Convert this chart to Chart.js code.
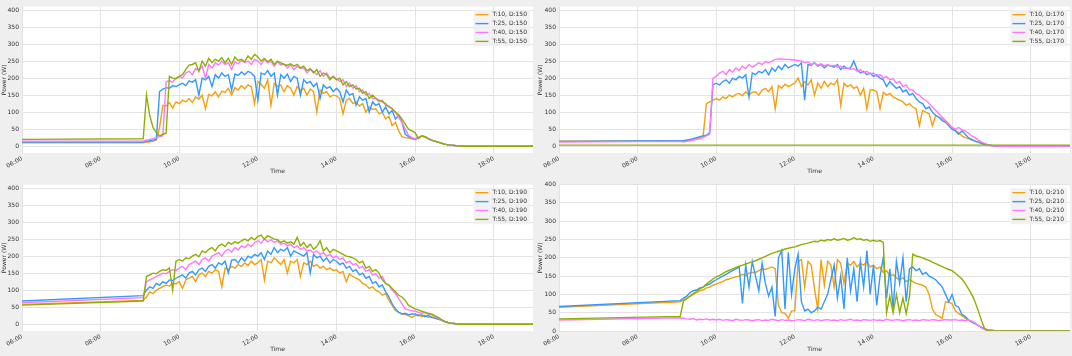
<!DOCTYPE html>
<html><head><meta charset="utf-8">
<script src="https://cdn.jsdelivr.net/npm/chart.js@4/dist/chart.umd.min.js"></script>
<style>
html,body{margin:0;padding:0;background:#efefef;}
#wrap{position:relative;width:1072px;height:356px;overflow:hidden;background:#efefef;}
.cell{position:absolute;width:536px;height:178px;}
canvas{display:block;}
</style></head><body>
<div id="wrap">
<div class="cell" style="left:0;top:0"><canvas id="c0" width="536" height="178"></canvas></div>
<div class="cell" style="left:536px;top:0"><canvas id="c1" width="536" height="178"></canvas></div>
<div class="cell" style="left:0;top:178px"><canvas id="c2" width="536" height="178"></canvas></div>
<div class="cell" style="left:536px;top:178px"><canvas id="c3" width="536" height="178"></canvas></div>
</div>
<script>
// ---- data ----
const times = ["06:00","09:05",
"09:10","09:15","09:20","09:25","09:30","09:35","09:40","09:45","09:50","09:55",
"10:00","10:05","10:10","10:15","10:20","10:25","10:30","10:35","10:40","10:45","10:50","10:55",
"11:00","11:05","11:10","11:15","11:20","11:25","11:30","11:35","11:40","11:45","11:50","11:55",
"12:00","12:05","12:10","12:15","12:20","12:25","12:30","12:35","12:40","12:45","12:50","12:55",
"13:00","13:05","13:10","13:15","13:20","13:25","13:30","13:35","13:40","13:45","13:50","13:55",
"14:00","14:05","14:10","14:15","14:20","14:25","14:30","14:35","14:40","14:45","14:50","14:55",
"15:00","15:05","15:10","15:15","15:20","15:25","15:30","15:35","15:40","15:45","15:50","15:55",
"16:00","16:05","16:10","16:15","16:20","16:25","16:30","16:35","16:40","16:45","16:50","16:55",
"17:00","17:05","17:10","19:00"];

const temps = [10, 25, 40, 55];
const distances = [150, 170, 190, 210];
const xTickHours = [6, 8, 10, 12, 14, 16, 18];
const xTickLabels = ["06:00","08:00","10:00","12:00","14:00","16:00","18:00"];
const yTickValues = [0, 50, 100, 150, 200, 250, 300, 350, 400];

// D:150
const d150_t10 = [10, 10,
 12, 13, 15, 18, 55, 120, 118, 128, 112, 130,
 125, 135, 130, 140, 128, 145, 138, 150, 110, 152, 148, 160,
 145, 162, 158, 170, 150, 172, 165, 178, 168, 180, 175, 125,
 190, 182, 170, 195, 120, 185, 175, 180, 160, 178, 170, 150,
 175, 165, 170, 150, 168, 160, 100, 165, 155, 160, 145, 150,
 148, 140, 95, 135, 140, 125, 130, 118, 125, 100, 115, 108,
 110, 95, 100, 80, 88, 60, 70, 45, 28, 25, 24, 22,
 20, 24, 30, 28, 22, 18, 15, 12, 9, 6, 4, 3,
 2, 1, 0, 0];
const d150_t25 = [12, 12,
 14, 16, 18, 20, 160, 168, 172, 170, 178, 175,
 180, 185, 178, 192, 188, 195, 150, 200, 195, 205, 175, 210,
 200, 215, 205, 210, 165, 212, 208, 218, 210, 220, 215, 205,
 135, 215, 210, 222, 205, 215, 150, 210, 200, 212, 190, 205,
 200, 150, 195, 185, 190, 175, 185, 140, 180, 170, 175, 160,
 170, 160, 130, 165, 150, 155, 120, 145, 135, 140, 100, 130,
 120, 125, 100, 115, 95, 105, 80, 90, 70, 35, 28, 24,
 20, 25, 30, 27, 22, 18, 15, 12, 9, 6, 4, 3,
 2, 1, 0, 0];
const d150_t40 = [15, 15,
 18, 20, 22, 25, 28, 30, 190, 192, 188, 200,
 205, 200, 215, 220, 210, 228, 222, 235, 200, 240, 230, 245,
 238, 250, 240, 245, 225, 248, 242, 252, 245, 250, 240, 255,
 250, 240, 255, 245, 250, 235, 248, 238, 242, 230, 238, 225,
 235, 228, 230, 215, 225, 220, 210, 222, 205, 215, 200, 205,
 198, 190, 195, 175, 185, 170, 178, 160, 165, 150, 155, 140,
 140, 130, 135, 120, 118, 110, 100, 85, 70, 50, 32, 25,
 22, 26, 30, 28, 22, 18, 15, 12, 9, 6, 4, 3,
 2, 1, 0, 0];
const d150_t55 = [20, 22,
 150, 90, 55, 40, 30, 35, 38, 205, 200, 198,
 205, 210, 225, 238, 240, 245, 220, 250, 235, 258, 245, 255,
 250, 260, 245, 258, 240, 262, 252, 255, 248, 265, 255, 270,
 262, 250, 258, 248, 255, 240, 250, 245, 240, 238, 242, 235,
 240, 230, 235, 222, 228, 215, 225, 205, 215, 210, 195, 205,
 195, 200, 180, 190, 175, 180, 168, 170, 155, 160, 140, 150,
 140, 135, 130, 125, 115, 110, 100, 92, 80, 65, 50, 45,
 40, 22, 30, 28, 22, 18, 15, 12, 9, 6, 4, 3,
 2, 1, 0, 0];

// D:170
const d170_t10 = [15, 16,
 15, 18, 16, 20, 22, 25, 30, 125, 130, 135,
 140, 135, 145, 140, 150, 145, 152, 155, 148, 160, 150, 158,
 160, 150, 165, 170, 160, 175, 110, 178, 170, 182, 175, 180,
 185, 200, 175, 190, 180, 195, 150, 185, 170, 190, 175, 185,
 180, 195, 120, 185, 175, 180, 170, 175, 150, 170, 110, 165,
 165, 160, 110, 158, 150, 155, 145, 140, 135, 130, 120, 125,
 115, 110, 60, 105, 100, 95, 60, 90, 85, 80, 75, 65,
 55, 45, 40, 30, 25, 22, 18, 15, 12, 10, 6, 4,
 2, 1, 0, 0];
const d170_t25 = [14, 16,
 16, 18, 20, 22, 25, 28, 30, 32, 40, 180,
 185, 180, 190, 195, 185, 200, 195, 205, 200, 210, 145, 215,
 210, 220, 215, 225, 210, 230, 220, 235, 225, 240, 230, 235,
 240, 235, 245, 135, 240, 238, 245, 235, 240, 230, 238, 235,
 232, 240, 225, 235, 228, 230, 250, 225, 215, 220, 210, 215,
 205, 210, 200, 195, 175, 190, 180, 170, 175, 160, 165, 150,
 155, 140, 130, 125, 110, 115, 100, 90, 85, 75, 70, 60,
 50, 45, 35, 45, 35, 25, 20, 15, 12, 8, 5, 3,
 2, 1, 0, 0];
const d170_t40 = [12, 14,
 12, 14, 16, 18, 20, 22, 25, 30, 35, 200,
 205, 215, 220, 210, 225, 218, 230, 222, 235, 228, 240, 232,
 238, 245, 240, 248, 245, 250, 255, 256, 256, 255, 255, 254,
 253, 252, 250, 245, 248, 240, 244, 238, 242, 236, 240, 235,
 238, 232, 235, 228, 230, 225, 228, 220, 225, 215, 220, 212,
 215, 205, 210, 200, 205, 195, 198, 185, 190, 175, 180, 165,
 165, 155, 150, 140, 135, 125, 115, 105, 95, 85, 75, 65,
 55, 50, 55, 48, 45, 38, 30, 25, 18, 12, 8, 4,
 2, 1, 0, 0];
const d170_t55 = [3, 3,
 3, 3, 3, 3, 3, 3, 3, 3, 3, 3,
 3, 3, 3, 3, 3, 3, 3, 3, 3, 3, 3, 3,
 3, 3, 3, 3, 3, 3, 3, 3, 3, 3, 3, 3,
 3, 3, 3, 3, 3, 3, 3, 3, 3, 3, 3, 3,
 3, 3, 3, 3, 3, 3, 3, 3, 3, 3, 3, 3,
 3, 3, 3, 3, 3, 3, 3, 3, 3, 3, 3, 3,
 3, 3, 3, 3, 3, 3, 3, 3, 3, 3, 3, 3,
 3, 3, 3, 3, 3, 3, 3, 3, 3, 3, 3, 3,
 3, 3, 3, 3];

// D:190
const d190_t10 = [58, 70,
 80, 95, 90, 100, 105, 110, 115, 112, 120, 118,
 125, 105, 130, 135, 140, 125, 145, 150, 140, 155, 150, 160,
 155, 110, 165, 160, 170, 165, 175, 170, 180, 172, 185, 175,
 180, 190, 130, 185, 180, 195, 185, 175, 190, 150, 185, 180,
 190, 140, 180, 175, 185, 170, 175, 165, 170, 160, 165, 158,
 160, 150, 155, 125, 148, 140, 135, 130, 120, 115, 105, 110,
 100, 95, 85, 90, 70, 55, 40, 35, 30, 28, 25, 20,
 25, 28, 22, 26, 20, 22, 18, 15, 12, 8, 5, 3,
 2, 0, 0, 0];
const d190_t25 = [68, 84,
 100, 110, 105, 120, 115, 125, 120, 130, 128, 135,
 140, 145, 135, 150, 155, 145, 160, 165, 155, 170, 175, 165,
 180, 175, 185, 150, 188, 190, 180, 195, 185, 200, 195, 205,
 200, 210, 190, 215, 205, 225, 210, 220, 215, 225, 200, 215,
 210, 205, 200, 210, 150, 205, 195, 200, 185, 195, 180, 190,
 185, 175, 180, 165, 170, 155, 160, 145, 150, 135, 140, 120,
 125, 110, 115, 95, 80, 60, 45, 35, 30, 32, 28, 30,
 30, 25, 28, 22, 26, 20, 18, 15, 12, 8, 5, 3,
 2, 0, 0, 0];
const d190_t40 = [63, 78,
 125, 130, 135, 140, 145, 150, 148, 155, 160, 158,
 165, 170, 160, 175, 180, 185, 175, 190, 195, 185, 200, 205,
 210, 200, 215, 220, 212, 225, 218, 230, 225, 235, 228, 240,
 245, 238, 250, 242, 248, 240, 245, 235, 238, 230, 235, 225,
 230, 220, 225, 215, 218, 210, 215, 205, 210, 200, 205, 195,
 200, 190, 195, 180, 185, 175, 178, 165, 170, 155, 160, 145,
 148, 135, 140, 120, 115, 100, 90, 75, 60, 45, 42, 40,
 38, 35, 32, 34, 30, 28, 22, 18, 12, 8, 5, 3,
 2, 0, 0, 0];
const d190_t55 = [56, 68,
 140, 145, 150, 148, 155, 160, 158, 165, 100, 185,
 190, 185, 195, 192, 200, 205, 198, 215, 210, 220, 225, 215,
 230, 235, 228, 240, 235, 242, 238, 245, 250, 245, 255, 248,
 258, 262, 250, 260, 255, 250, 248, 240, 245, 238, 242, 235,
 255, 230, 240, 225, 235, 220, 228, 245, 215, 225, 210, 220,
 215, 210, 205, 200, 198, 195, 190, 180, 185, 165, 170, 155,
 160, 150, 130, 120, 115, 105, 95, 85, 80, 70, 55, 50,
 45, 42, 38, 35, 32, 30, 25, 20, 14, 8, 5, 3,
 2, 0, 0, 0];

// D:210
const d210_t10 = [65, 80,
 85, 90, 95, 100, 105, 110, 112, 118, 120, 125,
 128, 132, 135, 140, 142, 145, 148, 150, 155, 152, 158, 160,
 160, 165, 170, 168, 172, 175, 170, 70, 50, 48, 35, 55,
 55, 190, 195, 120, 190, 180, 115, 60, 195, 125, 190, 180,
 120, 195, 185, 130, 185, 180, 190, 175, 185, 180, 190, 175,
 180, 170, 175, 160, 165, 150, 155, 145, 140, 145, 135, 140,
 135, 130, 128, 125, 120, 100, 60, 45, 40, 35, 80, 78,
 75, 55, 48, 42, 35, 30, 25, 20, 15, 10, 6, 3,
 2, 1, 0, 0];
const d210_t25 = [67, 83,
 90, 95, 105, 110, 112, 118, 120, 125, 128, 135,
 140, 145, 150, 155, 160, 165, 170, 175, 75, 180, 120, 190,
 150, 110, 185, 130, 95, 120, 40, 200, 220, 60, 215, 100,
 170, 210, 80, 55, 60, 50, 55, 65, 60, 80, 100, 140,
 180, 90, 150, 60, 200, 110, 170, 80, 190, 120, 220, 100,
 180, 70, 150, 200, 90, 170, 60, 190, 130, 200, 80, 170,
 175, 165, 170, 155, 160, 150, 145, 140, 130, 120, 100, 80,
 100, 70, 65, 45, 40, 30, 25, 20, 15, 10, 6, 3,
 2, 1, 0, 0];
const d210_t40 = [30, 36,
 35, 33, 32, 34, 30, 32, 31, 33, 30, 32,
 30, 32, 29, 31, 30, 28, 32, 30, 29, 31, 30, 28,
 30, 31, 28, 30, 29, 32, 30, 28, 31, 29, 30, 28,
 29, 31, 30, 28, 32, 30, 29, 31, 28, 30, 31, 29,
 30, 28, 31, 29, 30, 32, 29, 30, 28, 31, 30, 29,
 31, 29, 30, 28, 32, 30, 29, 31, 30, 28, 30, 31,
 29, 30, 28, 31, 30, 29, 31, 30, 28, 30, 31, 30,
 30, 31, 29, 30, 28, 30, 27, 22, 15, 8, 4, 2,
 1, 0, 0, 0];
const d210_t55 = [33, 40,
 82, 88, 95, 102, 108, 115, 120, 128, 135, 142,
 148, 152, 157, 162, 166, 170, 174, 177, 180, 183, 186, 189,
 192, 196, 200, 204, 208, 212, 215, 218, 220, 224, 226, 228,
 230, 233, 236, 238, 240, 243, 245, 244, 248, 246, 250, 248,
 252, 248, 250, 253, 248, 250, 255, 250, 252, 248, 250, 245,
 248, 245, 247, 242, 50, 95, 50, 100, 50, 90, 48, 95,
 210, 205, 203, 200, 196, 193, 188, 184, 180, 176, 172, 168,
 165, 158, 150, 142, 130, 115, 100, 80, 55, 28, 5, 0,
 0, 0, 0, 0];

const panelSeries = [
  [d150_t10, d150_t25, d150_t40, d150_t55],
  [d170_t10, d170_t25, d170_t40, d170_t55],
  [d190_t10, d190_t25, d190_t40, d190_t55],
  [d210_t10, d210_t25, d210_t40, d210_t55]
];

// ---- styling ----
const FONT = 'DejaVu Sans';
const TXT = '#333333';
const GRID = '#e3e3e3';
const colors = ['#f5a00f', '#3399ff', '#ff77ff', '#8db000'];
const panelLayout = [
  {yMin: -20, yMax: 410, yW: 22, padR: 3},
  {yMin: -20, yMax: 410, yW: 23, padR: 2},
  {yMin: -20, yMax: 410, yW: 22, padR: 3},
  {yMin: 0, yMax: 400, yW: 23, padR: 2}
];

Chart.defaults.font.family = FONT;

function toHours(t) { const p = t.split(':'); return Number(p[0]) + Number(p[1]) / 60; }

const bgPlugin = {
  id: 'plotBg',
  beforeDraw(chart) {
    const a = chart.chartArea, ctx = chart.ctx;
    ctx.save();
    ctx.fillStyle = '#ffffff';
    ctx.fillRect(a.left, a.top, a.right - a.left, a.bottom - a.top);
    ctx.restore();
  }
};

const legendPlugin = {
  id: 'innerLegend',
  afterDatasetsDraw(chart) {
    const a = chart.chartArea, ctx = chart.ctx;
    const ds = chart.data.datasets;
    ctx.save();
    ctx.font = '6px "' + FONT + '"';
    let tw = 0;
    ds.forEach(d => { tw = Math.max(tw, ctx.measureText(d.label).width); });
    const rowH = 8.9;
    const w = 2 + 13 + 4 + tw + 3;
    const h = ds.length * rowH + 0.5;
    const x = a.right - 3 - w, y = a.top + 3.5;
    ctx.fillStyle = 'rgba(240,240,240,0.85)';
    ctx.fillRect(x, y, w, h);
    ds.forEach((d, i) => {
      const cy = y + 4.6 + i * rowH;
      ctx.strokeStyle = d.borderColor;
      ctx.lineWidth = 1.4;
      ctx.beginPath(); ctx.moveTo(x + 2, cy); ctx.lineTo(x + 15, cy); ctx.stroke();
      ctx.fillStyle = TXT;
      ctx.textBaseline = 'middle';
      ctx.textAlign = 'left';
      ctx.fillText(d.label, x + 19, cy);
    });
    ctx.restore();
  }
};

function makeChart(id, p) {
  const L = panelLayout[p];
  const datasets = panelSeries[p].map((vals, i) => ({
    label: 'T:' + temps[i] + ', D:' + distances[p],
    data: times.map((t, k) => ({x: toHours(t), y: vals[k]})),
    borderColor: colors[i],
    backgroundColor: colors[i],
    borderWidth: 1.4,
    pointRadius: 0,
    tension: 0,
    fill: false,
    order: 3 - i
  }));
  return new Chart(document.getElementById(id), {
    type: 'line',
    data: {datasets},
    plugins: [bgPlugin, legendPlugin],
    options: {
      responsive: false,
      animation: false,
      devicePixelRatio: 1,
      events: [],
      layout: {padding: {top: 3.5, right: L.padR, bottom: 0, left: 0}},
      plugins: {legend: {display: false}, tooltip: {enabled: false}, title: {display: false}},
      scales: {
        x: {
          type: 'linear', min: 6, max: 19,
          afterBuildTicks: s => { s.ticks = xTickHours.map(v => ({value: v})); },
          afterFit: s => { s.height = 25; },
          ticks: {
            font: {family: FONT, size: 6}, color: TXT,
            minRotation: 30, maxRotation: 30, autoSkip: false, padding: 2,
            callback: (v, i) => xTickLabels[i]
          },
          grid: {color: GRID, lineWidth: 1, drawTicks: false},
          border: {display: false},
          title: {display: true, text: 'Time', font: {family: FONT, size: 6}, color: TXT, padding: {top: 0, bottom: 3}}
        },
        y: {
          type: 'linear', min: L.yMin, max: L.yMax,
          afterBuildTicks: s => { s.ticks = yTickValues.map(v => ({value: v})); },
          afterFit: s => { s.width = L.yW; },
          ticks: {font: {family: FONT, size: 6}, color: TXT, padding: 3},
          grid: {color: GRID, lineWidth: 1, drawTicks: false},
          border: {display: false},
          title: {display: true, text: 'Power (W)', font: {family: FONT, size: 6}, color: TXT, padding: {top: 1, bottom: 0}}
        }
      }
    }
  });
}

['c0', 'c1', 'c2', 'c3'].forEach((id, p) => makeChart(id, p));
</script>
</body></html>
